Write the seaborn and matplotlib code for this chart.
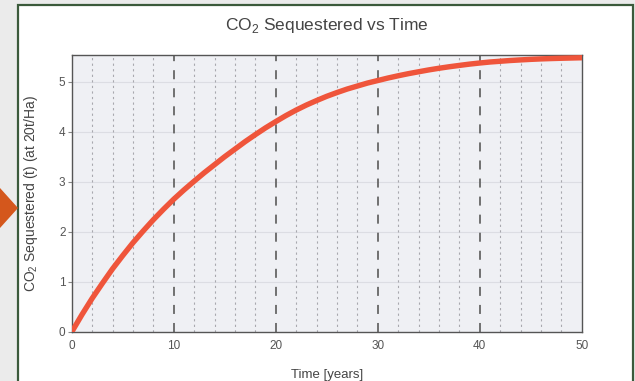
import matplotlib
matplotlib.use("Agg")
import matplotlib.pyplot as plt
import matplotlib.patches as mpatches
import seaborn as sns
import pandas as pd

years = list(range(0, 51))
co2 = [0.0, 0.345, 0.67, 0.97, 1.26, 1.525, 1.78, 2.015, 2.24, 2.45,
       2.65, 2.835, 3.01, 3.18, 3.34, 3.50, 3.65, 3.80, 3.94, 4.075,
       4.20, 4.32, 4.43, 4.53, 4.62, 4.705, 4.78, 4.85, 4.91, 4.97,
       5.02, 5.07, 5.115, 5.157, 5.195, 5.232, 5.265, 5.295, 5.322, 5.348,
       5.37, 5.39, 5.405, 5.42, 5.432, 5.443, 5.452, 5.459, 5.465, 5.47,
       5.475]
x_ticks = [0, 10, 20, 30, 40, 50]
y_ticks = [0, 1, 2, 3, 4, 5]
title = "CO$_2$ Sequestered vs Time"
xlabel = "Time [years]"
ylabel = "CO$_2$ Sequestered (t) (at 20t/Ha)"

df = pd.DataFrame({"Time": years, "CO2": co2})

sns.set_style("white")
plt.rcParams["font.family"] = ["Liberation Sans", "DejaVu Sans"]
plt.rcParams["mathtext.fontset"] = "custom"
plt.rcParams["mathtext.rm"] = "Liberation Sans"

W, H = 635, 381
fig = plt.figure(figsize=(W / 100, H / 100), dpi=100)
fig.patch.set_facecolor("#ebebeb")

# white panel with green border
panel = mpatches.Rectangle((18 / W, -0.05), (633 - 18) / W, (H - 5) / H + 0.05,
                           transform=fig.transFigure, facecolor="white",
                           edgecolor="#3b5a3b", linewidth=1.6, zorder=-10)
fig.add_artist(panel)
# orange arrow marker
arrow = mpatches.Polygon([(0, 1 - 188 / H), (18 / W, 1 - 208 / H), (0, 1 - 228 / H)],
                         closed=True, transform=fig.transFigure,
                         facecolor="#d4571c", edgecolor="none", zorder=-9)
fig.add_artist(arrow)

ax = fig.add_axes([71.7 / W, 1 - 332 / H, (581.7 - 71.7) / W, (332 - 55) / H])
ax.set_zorder(1)
ax.set_facecolor("#eff0f4")

# grid
for yv in y_ticks[1:]:
    ax.axhline(yv, color="#dcdde3", linewidth=0.8, zorder=1)
for xv in range(2, 50, 2):
    if xv % 10 == 0:
        ax.axvline(xv, color="#666666", linewidth=1.3, linestyle=(0, (5, 5)), zorder=1)
    else:
        ax.axvline(xv, color="#a8a8ae", linewidth=0.8, linestyle=(0, (2, 3)), zorder=1)

sns.lineplot(data=df, x="Time", y="CO2", ax=ax, color="#ef553b",
             linewidth=3.9, zorder=3)

ax.set_xlim(0, 50)
ax.set_ylim(0, 5.53)
ax.set_xticks(x_ticks)
ax.set_yticks(y_ticks)
ax.tick_params(axis="x", length=0, pad=6, labelsize=8.5, labelcolor="#555555")
ax.tick_params(axis="y", length=3, width=0.8, color="#888888", pad=1.5,
               labelsize=8.5, labelcolor="#555555", left=True)
for s in ax.spines.values():
    s.set_color("#555555")
    s.set_linewidth(1.0)
    s.set_visible(True)

ax.set_xlabel(xlabel, fontsize=9.5, color="#444444")
ax.xaxis.set_label_coords(0.5, -0.135)
ax.set_ylabel(ylabel, fontsize=10, color="#444444")
ax.yaxis.set_label_coords(-0.062, 0.5)
fig.text(0.5 * (71.7 + 581.7) / W, 1 - 25.5 / H, title, ha="center", va="center",
         fontsize=12.5, color="#444444")

fig.savefig("out.png", dpi=100, facecolor=fig.get_facecolor())
